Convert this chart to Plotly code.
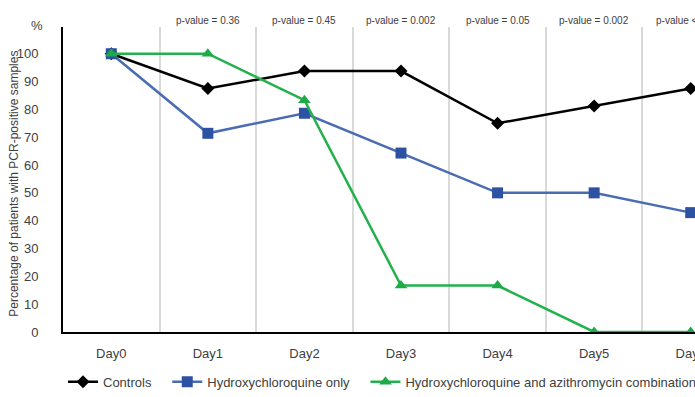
import plotly.graph_objects as go

days = ["Day0", "Day1", "Day2", "Day3", "Day4", "Day5", "Day6"]
controls = [100, 87.5, 93.75, 93.75, 75, 81.25, 87.5]
hcq_only = [100, 71.4, 78.6, 64.3, 50, 50, 42.9]
hcq_azi = [100, 100, 83.3, 16.7, 16.7, 0, 0]
p_days = ["Day1", "Day2", "Day3", "Day4", "Day5", "Day6"]
p_values = ["p-value = 0.36", "p-value = 0.45", "p-value = 0.002",
            "p-value = 0.05", "p-value = 0.002", "p-value < 0.001"]
y_ticks = list(range(0, 101, 10))
series_names = ["Controls", "Hydroxychloroquine only",
                "Hydroxychloroquine and azithromycin combination"]

FONT = "Liberation Sans"
TXT = "#404040"
PAD = "\u00a0\u00a0\u00a0"

fig = go.Figure()
fig.add_trace(go.Scatter(
    x=days, y=controls, name=series_names[0] + PAD, mode="lines+markers",
    line=dict(color="#000000", width=2.5),
    marker=dict(symbol="diamond", size=10, color="#000000"),
))
fig.add_trace(go.Scatter(
    x=days, y=hcq_only, name=series_names[1] + PAD, mode="lines+markers",
    line=dict(color="#4a6cb3", width=2.5),
    marker=dict(symbol="square", size=11, color="#2e52a3"),
))
fig.add_trace(go.Scatter(
    x=days, y=hcq_azi, name=series_names[2], mode="lines+markers",
    line=dict(color="#22b14c", width=2.5),
    marker=dict(symbol="triangle-up", size=11, color="#1faa48"),
))

for d, p in zip(p_days, p_values):
    fig.add_annotation(x=d, y=1.02, xref="x", yref="paper", text=p,
                       showarrow=False, font=dict(family=FONT, size=10, color=TXT),
                       xanchor="center", yanchor="middle")

fig.add_annotation(x=-0.0385, y=1.0065, xref="paper", yref="paper", text="%",
                   showarrow=False, xanchor="center", yanchor="middle",
                   font=dict(family=FONT, size=13, color=TXT))
fig.add_annotation(x=-0.073, y=0.485, xref="paper", yref="paper",
                   text="Percentage of patients with PCR-positive samples",
                   textangle=-90, showarrow=False, xanchor="center", yanchor="middle",
                   font=dict(family=FONT, size=12, color=TXT))

fig.update_layout(
    width=739, height=397,
    margin=dict(l=63, r=0, t=27, b=63),
    plot_bgcolor="white", paper_bgcolor="white",
    font=dict(family=FONT, size=13, color=TXT),
    showlegend=True,
    legend=dict(orientation="h", x=0.0, xanchor="left", y=-0.163, yanchor="middle",
                font=dict(family=FONT, size=13, color=TXT), traceorder="normal",
                itemwidth=30),
    xaxis=dict(type="category", categoryorder="array", categoryarray=days,
               range=[-0.5, 6.5], tickson="boundaries", showgrid=True,
               gridcolor="#d9d9d9", gridwidth=1.5, showline=True,
               linecolor="#000000", linewidth=2, ticks="", ticklabelstandoff=8,
               tickfont=dict(family=FONT, size=13, color=TXT), zeroline=False),
    yaxis=dict(range=[0, 109.6], tickvals=y_ticks, showgrid=False, showline=True,
               linecolor="#000000", linewidth=2, ticks="", ticklabelstandoff=20,
               tickfont=dict(family=FONT, size=13, color=TXT), zeroline=False),
)

fig.write_html("out.html", config={"displayModeBar": False},
               post_script="document.body.style.margin='0';document.body.style.overflow='hidden';")
